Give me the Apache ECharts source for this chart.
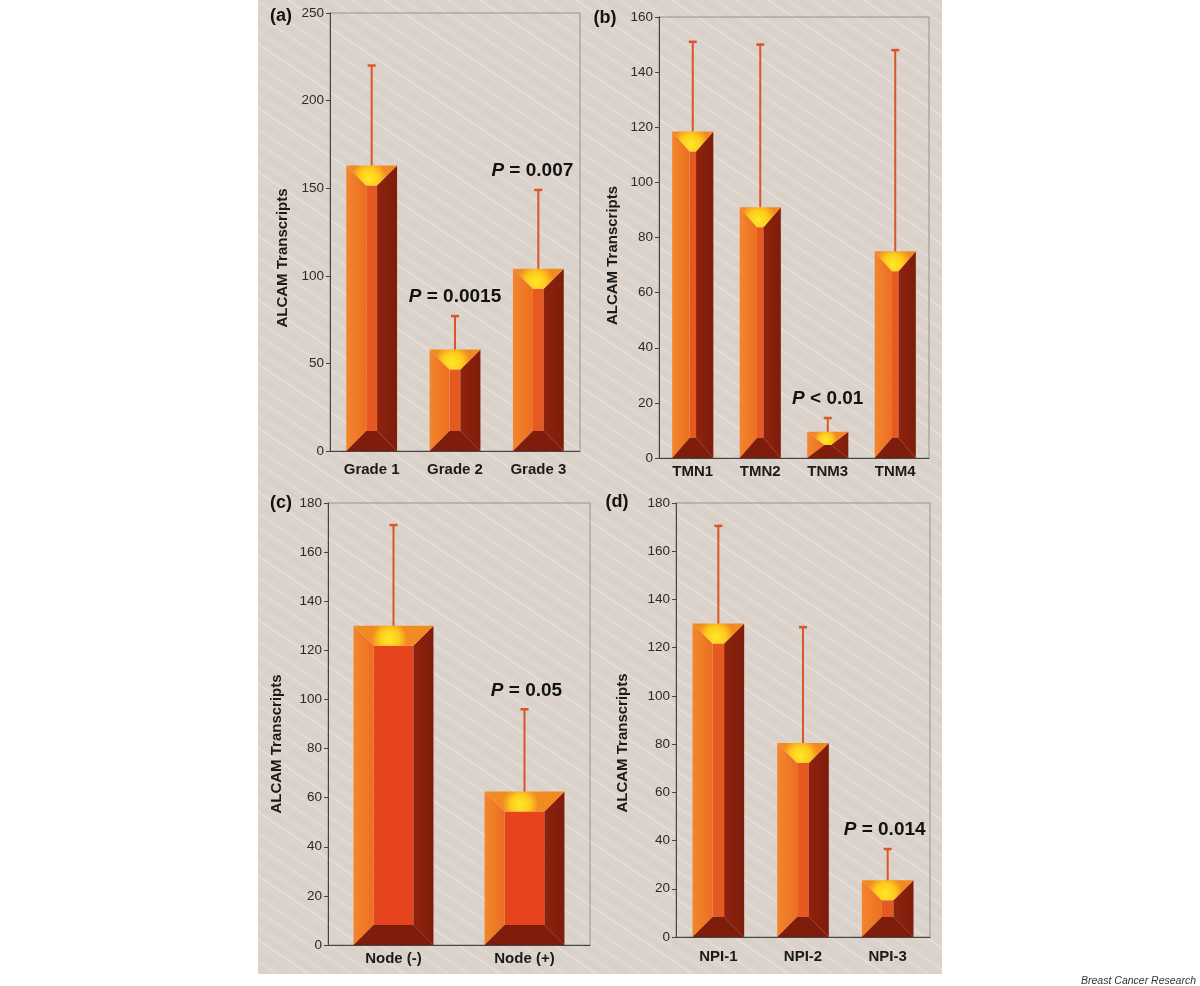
<!DOCTYPE html>
<html><head><meta charset="utf-8">
<script src="https://cdn.jsdelivr.net/npm/echarts@6/dist/echarts.min.js"></script>
<style>html,body{margin:0;padding:0;background:#fff}#c{width:1200px;height:986px}</style>
</head><body><div id="c"></div><script>
// ---------------- DATA ----------------
const gradeCats = ['Grade 1', 'Grade 2', 'Grade 3'];
const gradeMeans = [163, 58, 104];
const gradeSD = [57, 19, 45];
const gradeP = ['', '= 0.0015', '= 0.007'];
const gradeTicks = [0, 50, 100, 150, 200, 250];

const tnmCats = ['TMN1', 'TMN2', 'TNM3', 'TNM4'];
const tnmMeans = [118.5, 91, 9.5, 75];
const tnmSD = [32.5, 59, 5, 73];
const tnmP = ['', '', '< 0.01', ''];
const tnmTicks = [0, 20, 40, 60, 80, 100, 120, 140, 160];

const nodeCats = ['Node (-)', 'Node (+)'];
const nodeMeans = [130, 62.5];
const nodeSD = [41, 33.5];
const nodeP = ['', '= 0.05'];
const nodeTicks = [0, 20, 40, 60, 80, 100, 120, 140, 160, 180];

const npiCats = ['NPI-1', 'NPI-2', 'NPI-3'];
const npiMeans = [130, 80.5, 23.5];
const npiSD = [40.5, 48, 13];
const npiP = ['', '', '= 0.014'];
const npiTicks = [0, 20, 40, 60, 80, 100, 120, 140, 160, 180];

const panelLetters = ['(a)', '(b)', '(c)', '(d)'];
const yAxisTitle = 'ALCAM Transcripts';
const credit = 'Breast Cancer Research';

// ---------------- STYLE / LAYOUT ----------------
const FONT = '"Liberation Sans", Arial, sans-serif';
const panels = [
  {cats: gradeCats, means: gradeMeans, sd: gradeSD, p: gradeP, ticks: gradeTicks, pShift: [0, 0, -6],
   grid: {left: 330, top: 13, width: 250, height: 438}, front: '#e65a22', nameGap: 40, namePad: 52, xMargin: 11},
  {cats: tnmCats, means: tnmMeans, sd: tnmSD, p: tnmP, ticks: tnmTicks, pShift: [0, 0, 0, 0],
   grid: {left: 659, top: 17, width: 270, height: 441}, front: '#e65a22', nameGap: 39, namePad: 36, xMargin: 6},
  {cats: nodeCats, means: nodeMeans, sd: nodeSD, p: nodeP, ticks: nodeTicks, pShift: [0, 2],
   grid: {left: 328, top: 503, width: 262, height: 442}, front: '#e5441c', nameGap: 44, namePad: 40, xMargin: 6},
  {cats: npiCats, means: npiMeans, sd: npiSD, p: npiP, ticks: npiTicks, pShift: [0, 0, -3],
   grid: {left: 676, top: 503, width: 254, height: 434}, front: '#e65a22', nameGap: 46, namePad: 46, xMargin: 12}
];
const letterPos = [[281, 16], [605, 18], [281, 503], [617, 502]];

function makeRender(front, pTexts, pShift) {
  return function (params, api) {
    const i = api.value(0), v = api.value(1), sd = api.value(2);
    const b = api.coord([i, 0]), t = api.coord([i, v]), e = api.coord([i, v + sd]);
    const bw = api.size([1, 0])[0] * 0.61;
    const cx = b[0], xl = cx - bw / 2, xr = cx + bw / 2, yb = b[1], yt = t[1];
    const dx = Math.min(20, bw * 0.42), dy = Math.min(20, (yb - yt) / 2);
    const poly = (pts, fill) => ({type: 'polygon', shape: {points: pts}, style: {fill: fill}});
    const children = [
      poly([[xl + dx, yt + dy], [xr - dx, yt + dy], [xr - dx, yb - dy], [xl + dx, yb - dy]], front),
      poly([[xl, yt], [xl + dx, yt + dy], [xl + dx, yb - dy], [xl, yb]],
        {type: 'linear', x: 0, y: 0, x2: 1, y2: 0, colorStops: [{offset: 0, color: '#f3862c'}, {offset: 1, color: '#ec6e22'}]}),
      poly([[xr, yt], [xr - dx, yt + dy], [xr - dx, yb - dy], [xr, yb]],
        {type: 'linear', x: 0, y: 0, x2: 1, y2: 0, colorStops: [{offset: 0, color: '#8e220e'}, {offset: 1, color: '#7e1c0a'}]}),
      poly([[xl, yb], [xl + dx, yb - dy], [xr - dx, yb - dy], [xr, yb]], '#7e1d0b'),
      poly([[xl, yt], [xr, yt], [xr - dx, yt + dy], [xl + dx, yt + dy]],
        {type: 'radial', x: 0.45, y: 0.65, r: 0.9, colorStops: [{offset: 0, color: '#ffe82a'}, {offset: 0.55, color: '#fecb1c'}, {offset: 1, color: '#f28a22'}]}),
      {type: 'line', shape: {x1: cx, y1: yt, x2: cx, y2: e[1]}, style: {stroke: '#d9552c', lineWidth: 2}},
      {type: 'line', shape: {x1: cx - 4, y1: e[1], x2: cx + 4, y2: e[1]}, style: {stroke: '#d9552c', lineWidth: 2.5}}
    ];
    if (pTexts[i]) {
      children.push({type: 'text', x: cx + (pShift[i] || 0), y: e[1] - 19, style: {
        text: '{i|P} ' + pTexts[i], fill: '#111', fontSize: 19, fontWeight: 'bold', fontFamily: FONT,
        align: 'center', verticalAlign: 'middle',
        rich: {i: {fontStyle: 'italic', fontWeight: 'bold', fontSize: 19, fontFamily: FONT, fill: '#111'}}
      }});
    }
    return {type: 'group', children: children};
  };
}

// Background texture (deterministic soft diagonal streaks)
const tile = document.createElement('canvas');
tile.width = 96; tile.height = 64;
(function () {
  const g = tile.getContext('2d');
  g.fillStyle = '#dbd3cb'; g.fillRect(0, 0, 96, 64);
  const streaks = [[0, 'rgba(245,240,234,0.35)', 2], [9, 'rgba(190,175,165,0.12)', 1.5], [19, 'rgba(245,240,234,0.22)', 1.5],
    [31, 'rgba(190,175,165,0.14)', 2], [43, 'rgba(245,240,234,0.32)', 1.5], [54, 'rgba(190,175,165,0.1)', 1],
    [64, 'rgba(245,240,234,0.26)', 2], [76, 'rgba(190,175,165,0.13)', 1.5], [86, 'rgba(245,240,234,0.2)', 1]];
  streaks.forEach(([x0, c, w]) => {
    g.strokeStyle = c; g.lineWidth = w;
    [-96, 0, 96].forEach(s => { g.beginPath(); g.moveTo(x0 + s, 0); g.lineTo(x0 + s + 96, 64); g.stroke(); });
  });
})();

const option = {
  animation: false,
  backgroundColor: '#ffffff',
  grid: panels.map(p => Object.assign({show: true, borderColor: '#929292', borderWidth: 1, backgroundColor: 'transparent'}, p.grid)),
  xAxis: panels.map((p, k) => ({
    type: 'category', gridIndex: k, data: p.cats,
    axisLine: {lineStyle: {color: '#444', width: 1}},
    axisTick: {length: 5, lineStyle: {color: '#444'}},
    axisLabel: {fontSize: 15, fontWeight: 'bold', color: '#1a1a1a', fontFamily: FONT, margin: p.xMargin, interval: 0}
  })),
  yAxis: panels.map((p, k) => ({
    type: 'value', gridIndex: k, min: p.ticks[0], max: p.ticks[p.ticks.length - 1],
    interval: p.ticks[1] - p.ticks[0],
    name: yAxisTitle, nameLocation: 'middle', nameRotate: 90, nameGap: p.nameGap,
    nameTextStyle: {fontSize: 15, fontWeight: 'bold', color: '#1a1a1a', fontFamily: FONT, padding: [0, p.namePad, 0, 0]},
    splitLine: {show: false},
    axisLine: {show: true, lineStyle: {color: '#444', width: 1}},
    axisTick: {show: true, length: 4, lineStyle: {color: '#444'}},
    axisLabel: {fontSize: 13.5, color: '#2a2a2a', fontFamily: FONT, margin: 6}
  })),
  series: panels.map((p, k) => ({
    type: 'custom', xAxisIndex: k, yAxisIndex: k, clip: false,
    renderItem: makeRender(p.front, p.p, p.pShift),
    data: p.means.map((m, i) => [i, m, p.sd[i]])
  })),
  graphic: [
    {type: 'rect', z: -100, silent: true, shape: {x: 258, y: 0, width: 684, height: 974},
     style: {fill: {image: tile, repeat: 'repeat'}}}
  ].concat(panelLetters.map((t, k) => ({
    type: 'text', x: letterPos[k][0], y: letterPos[k][1], z: 10,
    style: {text: t, fontSize: 18, fontWeight: 'bold', fontFamily: FONT, fill: '#111', align: 'center', verticalAlign: 'middle'}
  }))).concat([
    {type: 'text', x: 1196, y: 981, style: {text: credit, fontSize: 10.5, fontStyle: 'italic', fontFamily: FONT, fill: '#333', align: 'right', verticalAlign: 'middle'}}
  ])
};
const chart = echarts.init(document.getElementById('c'), null, {renderer: 'canvas'});
chart.setOption(option);
</script></body></html>
